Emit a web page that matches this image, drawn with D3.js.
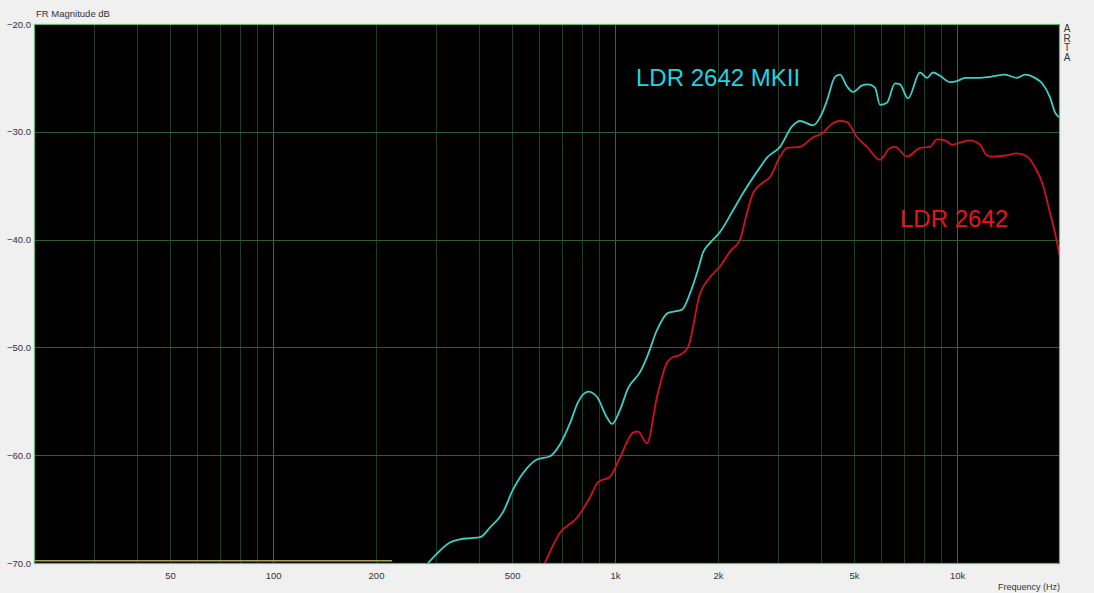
<!DOCTYPE html>
<html>
<head>
<meta charset="utf-8">
<script src="https://cdn.jsdelivr.net/npm/d3@7"></script>
<style>
  body { margin: 0; background: #f0f0f0; }
  svg { display: block; font-family: "Liberation Sans", Arial, sans-serif; }
</style>
</head>
<body>
<div id="chart"></div>
<script>
// LDR 2642 MKII (cyan)
var mkiiFreq = [284, 302, 329, 352, 377, 403, 431, 470, 503, 553, 591, 645, 690, 739, 779, 834, 886, 947, 980, 1034,
    1091, 1183, 1240, 1326, 1428, 1570, 1656, 1748, 1808, 1895, 2027, 2212, 2366, 2654, 2782, 3037, 3293, 3474, 3792, 4028,
    4166, 4398, 4548, 4768, 4964, 5276, 5491, 5756, 5952, 6241, 6586, 6812, 7188, 7792, 8168, 8506, 8916, 9538, 9994, 10548,
    11672, 12484, 13812, 14974, 15802, 16906, 17724, 18700, 19340, 20000];
var mkiiDb = [-70.0, -69.1, -68.1, -67.8, -67.7, -67.6, -66.7, -65.3, -63.2, -61.2, -60.4, -60.1, -59.0, -57.0, -55.1, -54.1, -54.6, -56.5, -57.1, -55.8,
    -53.8, -52.3, -50.9, -48.4, -46.8, -46.5, -45.0, -42.8, -41.2, -40.3, -39.3, -37.3, -35.7, -33.3, -32.4, -31.4, -29.5, -29.0, -29.4, -28.3,
    -27.1, -24.9, -24.7, -25.8, -26.3, -25.7, -25.6, -25.9, -27.5, -27.3, -25.5, -25.6, -26.9, -24.5, -25.0, -24.5, -24.8, -25.4, -25.3, -25.0,
    -25.0, -24.9, -24.7, -25.0, -24.7, -25.0, -25.5, -26.8, -28.2, -28.7];

// LDR 2642 (red)
var ldrFreq = [624, 690, 774, 845, 892, 967, 1034, 1129, 1167, 1240, 1326, 1419, 1477, 1549, 1634, 1772, 1895, 2027, 2168, 2320,
    2431, 2532, 2708, 2838, 3037, 3182, 3474, 3792, 4056, 4252, 4548, 4768, 5100, 5454, 5952, 6368, 6586, 7140, 7792, 8338,
    8738, 9220, 9666, 10200, 10912, 11672, 12234, 12740, 13812, 14974, 16018, 16906, 17724, 18700, 19340, 20000];
var ldrDb = [-70.0, -67.2, -65.8, -63.9, -62.5, -62.0, -60.2, -57.9, -57.8, -58.9, -54.6, -51.4, -50.9, -50.7, -50.0, -45.0, -43.5, -42.5, -41.1, -40.0,
    -37.5, -35.7, -34.7, -34.2, -32.3, -31.5, -31.4, -30.5, -30.1, -29.4, -29.0, -29.1, -30.5, -31.4, -32.6, -31.5, -31.4, -32.3, -31.5, -31.4,
    -30.7, -30.8, -31.2, -31.0, -30.8, -31.2, -32.2, -32.3, -32.2, -32.0, -32.3, -33.3, -34.7, -37.5, -39.4, -41.6];

// floor trace sitting on the bottom edge
var floorFreq = [20, 223];
var floorDb = [-69.8, -69.8];

var xTicks = [50, 100, 200, 500, 1000, 2000, 5000, 10000];
var yTicks = [-20, -30, -40, -50, -60, -70];
var majorGrid = [100, 1000, 10000];

var width = 1094, height = 593;
var plotL = 34, plotR = 1060, plotT = 24, plotB = 563;

var svg = d3.select("#chart").append("svg")
    .attr("width", width)
    .attr("height", height);

var x = d3.scaleLog().domain([20, 20000]).range([plotL, plotR]);
var y = d3.scaleLinear().domain([-70, -20]).range([plotB, plotT]);

svg.append("rect")
    .attr("x", plotL).attr("y", plotT)
    .attr("width", plotR - plotL).attr("height", plotB - plotT)
    .attr("fill", "#000");

svg.append("clipPath").attr("id", "plot")
    .append("rect")
    .attr("x", plotL).attr("y", plotT)
    .attr("width", plotR - plotL).attr("height", plotB - plotT);

// grid
var vLines = [];
[10, 100, 1000, 10000].forEach(function(dec) {
    for (var i = 1; i < 10; i++) {
        var f = dec * i;
        if (f > 20 && f < 20000) vLines.push(f);
    }
});

var grid = svg.append("g");
grid.selectAll(".vgrid")
    .data(vLines)
    .enter().append("line")
    .attr("x1", d => Math.round(x(d)) + 0.5).attr("x2", d => Math.round(x(d)) + 0.5)
    .attr("y1", plotT).attr("y2", plotB)
    .attr("stroke", d => majorGrid.indexOf(d) >= 0 ? "#2d6a3c" : "#1b3d2b")
    .attr("stroke-width", 1);

grid.selectAll(".hgrid")
    .data(yTicks.slice(1, -1))
    .enter().append("line")
    .attr("x1", plotL).attr("x2", plotR)
    .attr("y1", d => Math.round(y(d)) + 0.5).attr("y2", d => Math.round(y(d)) + 0.5)
    .attr("stroke", "#2e5d30")
    .attr("stroke-width", 1);

// curves
var line = d3.line()
    .x(d => x(d[0]))
    .y(d => y(d[1]))
    .curve(d3.curveMonotoneX);

var curves = svg.append("g").attr("clip-path", "url(#plot)");

curves.append("path")
    .datum(floorFreq.map((f, i) => [f, floorDb[i]]))
    .attr("d", line)
    .attr("fill", "none")
    .attr("stroke", "#a89c5c")
    .attr("stroke-width", 1.5);

curves.append("path")
    .datum(ldrFreq.map((f, i) => [f, ldrDb[i]]))
    .attr("d", line)
    .attr("fill", "none")
    .attr("stroke", "#d0121e")
    .attr("stroke-width", 1.8);

curves.append("path")
    .datum(mkiiFreq.map((f, i) => [f, mkiiDb[i]]))
    .attr("d", line)
    .attr("fill", "none")
    .attr("stroke", "#3ccfc9")
    .attr("stroke-width", 1.8);

// frame
svg.append("rect")
    .attr("x", plotL + 0.5).attr("y", plotT + 0.5)
    .attr("width", plotR - plotL - 1).attr("height", plotB - plotT)
    .attr("fill", "none")
    .attr("stroke", "#6cb06c")
    .attr("stroke-width", 1.2);

// axes
var xAxis = svg.append("g")
    .attr("transform", "translate(0," + plotB + ")")
    .call(d3.axisBottom(x)
        .tickValues(xTicks)
        .tickFormat(d => d >= 1000 ? (d / 1000) + "k" : d)
        .tickSize(0)
        .tickPadding(9));
xAxis.select(".domain").remove();
xAxis.selectAll("text").attr("fill", "#333").style("font-size", "9.5px");

var yAxis = svg.append("g")
    .attr("transform", "translate(" + (plotL - 2) + ",0)")
    .call(d3.axisLeft(y)
        .tickValues(yTicks)
        .tickFormat(d3.format(".1f"))
        .tickSize(0)
        .tickPadding(1));
yAxis.select(".domain").remove();
yAxis.selectAll("text").attr("fill", "#333").style("font-size", "9.5px");

svg.append("text")
    .attr("x", 36).attr("y", 17)
    .attr("fill", "#333")
    .style("font-size", "9.5px")
    .text("FR Magnitude dB");

svg.append("text")
    .attr("x", plotR).attr("y", 590)
    .attr("text-anchor", "end")
    .attr("fill", "#333")
    .style("font-size", "9px")
    .text("Frequency (Hz)");

svg.append("g").selectAll("text")
    .data("ARTA".split(""))
    .enter().append("text")
    .attr("x", 1067).attr("y", (d, i) => 32 + i * 9.5)
    .attr("text-anchor", "middle")
    .attr("fill", "#333")
    .style("font-size", "10px")
    .text(d => d);

// labels
svg.append("text")
    .attr("x", 636).attr("y", 86)
    .attr("fill", "#1fd5e0")
    .style("font-size", "24px")
    .text("LDR 2642 MKII");

svg.append("text")
    .attr("x", 900).attr("y", 227)
    .attr("fill", "#e8141e")
    .style("font-size", "24px")
    .text("LDR 2642");
</script>
</body>
</html>
